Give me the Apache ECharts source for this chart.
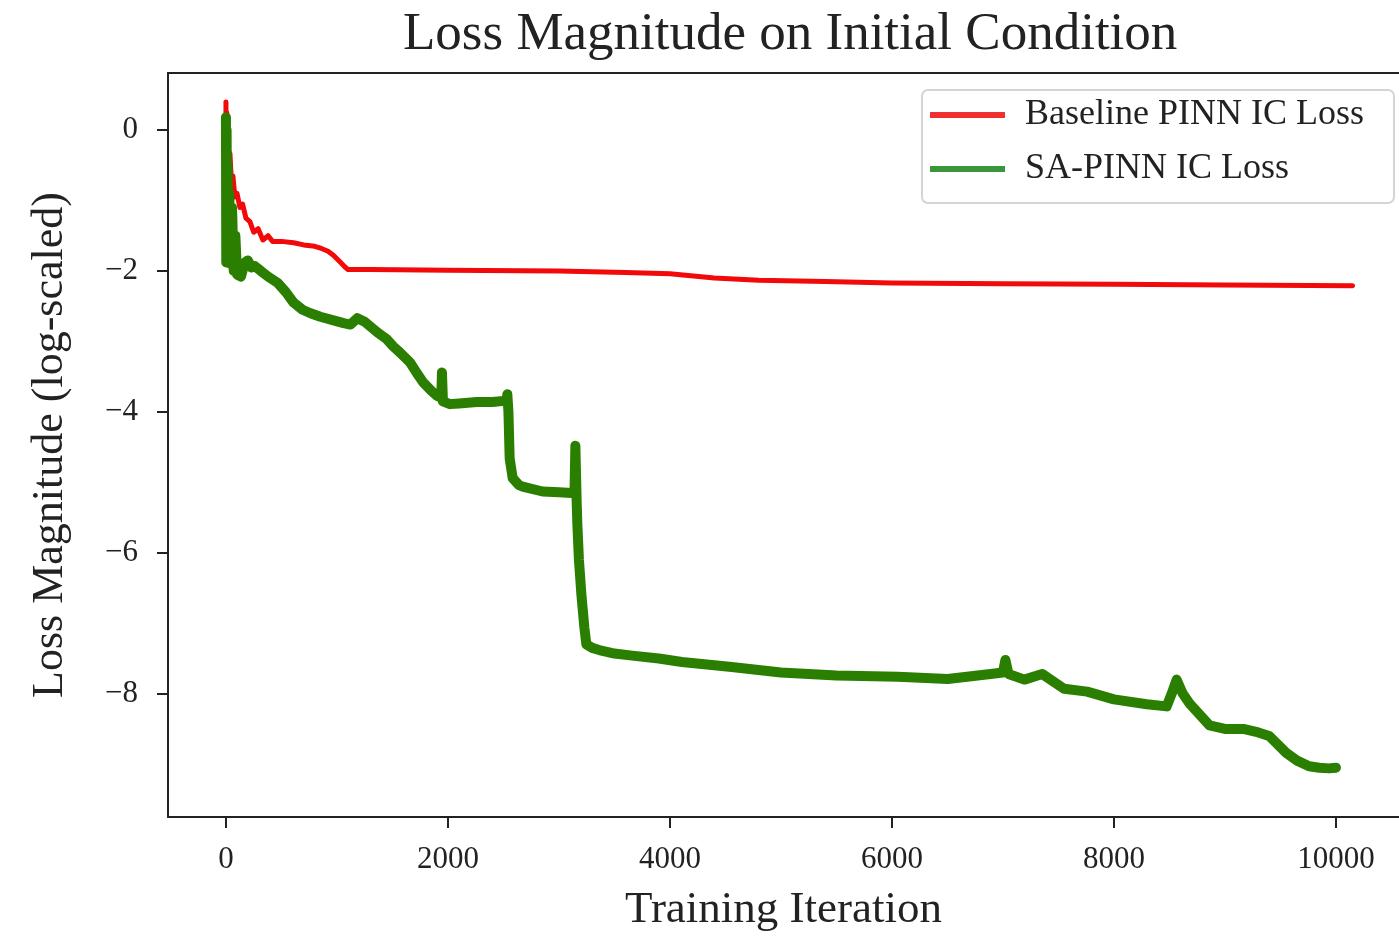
<!DOCTYPE html>
<html>
<head>
<meta charset="utf-8">
<script src="https://cdn.jsdelivr.net/npm/echarts@6/dist/echarts.min.js"></script>
<style>
  html, body { margin: 0; padding: 0; background: #fff; }
  #chart { width: 1399px; height: 938px; }
</style>
</head>
<body>
<div id="chart"></div>
<script>
// ---- Data ----
const titleText = 'Loss Magnitude on Initial Condition';
const xLabel = 'Training Iteration';
const yLabel = 'Loss Magnitude (log-scaled)';
const seriesNames = ['Baseline PINN IC Loss', 'SA-PINN IC Loss'];
const xTicks = [0, 2000, 4000, 6000, 8000, 10000];
const yTicks = [-8, -6, -4, -2, 0];

// Baseline PINN: [iteration, log10 loss]
const baselineIter = [0, 4, 8, 12, 18, 25, 36, 50, 63, 80, 100, 126, 150, 180, 216, 250, 290, 333, 380, 420, 500, 610, 700, 800, 860, 920, 970, 1020, 1070, 1100, 1300, 2000, 3000, 3600, 4000, 4400, 4800, 5400, 6000, 7000, 8000, 9000, 10150];
const baselineVal  = [0.40, -1.85, 0.25, -1.5, -0.2, -0.6, -0.33, -0.75, -0.65, -0.95, -0.9, -1.1, -1.05, -1.25, -1.3, -1.45, -1.4, -1.56, -1.5, -1.58, -1.58, -1.6, -1.63, -1.65, -1.68, -1.72, -1.78, -1.86, -1.94, -1.98, -1.98, -1.99, -2.0, -2.02, -2.04, -2.1, -2.13, -2.15, -2.17, -2.18, -2.19, -2.2, -2.21];

// SA-PINN: [iteration, log10 loss]
const saIter = [0, 3, 6, 10, 15, 20, 30, 40, 55, 70, 85, 100, 135, 170, 197, 230, 260, 314, 380, 466, 540, 610, 690, 762, 850, 969, 1060, 1121, 1184, 1250, 1363, 1450, 1507, 1570, 1659, 1720, 1776, 1850, 1901, 1940, 1946, 1955, 2018, 2100, 2260, 2400, 2529, 2535, 2545, 2556, 2583, 2640, 2673, 2852, 3000, 3112, 3140, 3148, 3160, 3166, 3180, 3202, 3229, 3247, 3300, 3363, 3500, 3659, 3900, 4108, 4556, 5000, 5500, 6054, 6502, 6888, 7000, 7022, 7050, 7193, 7354, 7552, 7758, 8000, 8296, 8475, 8520, 8565, 8620, 8682, 8861, 9000, 9166, 9300, 9399, 9552, 9650, 9758, 9850, 9937, 10000];
const saVal  = [0.18, -1.88, 0.0, -1.8, -0.5, -1.7, -0.9, -1.9, -1.1, -2.0, -1.5, -2.05, -2.08, -1.88, -1.85, -1.95, -1.93, -2.0, -2.08, -2.17, -2.3, -2.45, -2.55, -2.6, -2.65, -2.7, -2.74, -2.76, -2.67, -2.72, -2.87, -2.97, -3.07, -3.16, -3.3, -3.45, -3.58, -3.7, -3.77, -3.8, -3.44, -3.85, -3.89, -3.88, -3.86, -3.86, -3.84, -3.75, -4.0, -4.66, -4.94, -5.04, -5.06, -5.13, -5.14, -5.15, -5.15, -4.48, -5.3, -5.6, -6.1, -6.59, -7.06, -7.3, -7.35, -7.38, -7.43, -7.46, -7.5, -7.55, -7.62, -7.7, -7.74, -7.76, -7.79, -7.72, -7.7, -7.52, -7.72, -7.8, -7.72, -7.93, -7.97, -8.08, -8.15, -8.18, -8.0, -7.8, -8.0, -8.14, -8.45, -8.5, -8.5, -8.55, -8.6, -8.84, -8.95, -9.03, -9.05, -9.06, -9.05];

const baselineData = baselineIter.map((x, i) => [x, baselineVal[i]]);
const saData = saIter.map((x, i) => [x, saVal[i]]);

const FONT = '"Liberation Serif", "DejaVu Serif", serif';
const INK = '#222';
const X_MIN = -522, X_MAX = 10568;
const Y_MIN = -9.75, Y_MAX = 0.81;

const chart = echarts.init(document.getElementById('chart'), null, { renderer: 'canvas' });
chart.setOption({
  animation: false,
  backgroundColor: '#fff',
  title: {
    text: titleText,
    left: 398,
    top: 4,
    textStyle: { fontFamily: FONT, fontSize: 53, fontWeight: 'normal', color: INK }
  },
  grid: {
    left: 168, right: 0, top: 73, bottom: 118,
    show: false
  },
  legend: {
    left: 922, top: 90,
    orient: 'vertical',
    icon: 'rect',
    itemWidth: 75, itemHeight: 6, itemGap: 14,
    padding: [5, 30, 14, 8],
    backgroundColor: 'rgba(255,255,255,0.85)',
    borderColor: '#d4d4d4', borderWidth: 2, borderRadius: 6,
    textStyle: { fontFamily: FONT, fontSize: 36, color: INK, lineHeight: 40, padding: [0, 0, 0, 15] },
    data: [
      { name: seriesNames[0], itemStyle: { color: '#f03030' } },
      { name: seriesNames[1], itemStyle: { color: '#3a963a' } }
    ]
  },
  xAxis: [
    {
      type: 'value',
      min: X_MIN, max: X_MAX,
      name: xLabel, nameLocation: 'middle', nameGap: 71,
      nameTextStyle: { fontFamily: FONT, fontSize: 45, color: INK },
      axisLine: { show: true, onZero: false, lineStyle: { color: INK, width: 2 } },
      axisTick: { show: true, length: 11, lineStyle: { color: INK, width: 2 }, customValues: xTicks },
      axisLabel: { fontFamily: FONT, fontSize: 31, color: INK, margin: 27, customValues: xTicks,
        formatter: v => String(v) },
      splitLine: { show: false }
    },
    {
      type: 'value', position: 'top',
      min: X_MIN, max: X_MAX,
      axisLine: { show: true, onZero: false, lineStyle: { color: INK, width: 2 } },
      axisTick: { show: false }, axisLabel: { show: false }, splitLine: { show: false }
    }
  ],
  yAxis: {
    type: 'value',
    min: Y_MIN, max: Y_MAX,
    name: yLabel, nameLocation: 'middle', nameGap: 96, nameRotate: 90,
    nameTextStyle: { fontFamily: FONT, fontSize: 44, color: INK },
    axisLine: { show: true, onZero: false, lineStyle: { color: INK, width: 2 } },
    axisTick: { show: true, length: 11, lineStyle: { color: INK, width: 2 }, customValues: yTicks },
    axisLabel: { fontFamily: FONT, fontSize: 31, color: INK, margin: 30, customValues: yTicks,
      formatter: v => String(v).replace('-', '\u2212') },
    splitLine: { show: false }
  },
  series: [
    {
      name: seriesNames[0], type: 'line', data: baselineData,
      xAxisIndex: 0,
      showSymbol: false, symbol: 'none', z: 2,
      color: '#f20a0a',
      lineStyle: { color: '#f20a0a', width: 5, cap: 'round', join: 'round' }
    },
    {
      name: seriesNames[1], type: 'line', data: saData,
      xAxisIndex: 0,
      showSymbol: false, symbol: 'none', z: 3,
      color: '#2a7f00',
      lineStyle: { color: '#2a7f00', width: 10, cap: 'round', join: 'round' }
    }
  ]
});
</script>
</body>
</html>
